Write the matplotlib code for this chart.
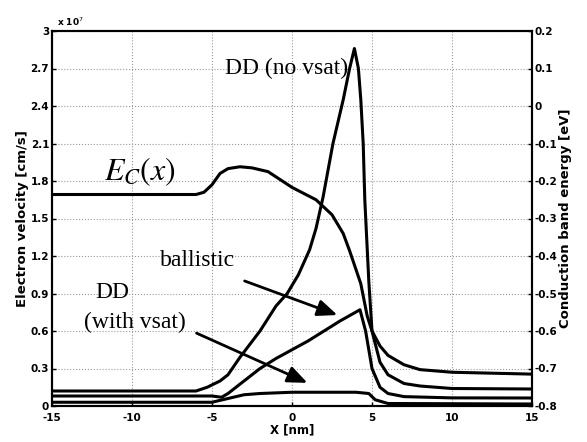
import matplotlib
matplotlib.use("Agg")
import matplotlib.pyplot as plt
import numpy as np

# ---- data ----
x_dd_novsat = [-15, -6, -5.3, -4.5, -4, -3.25, -2, -1, -0.3, 0.4, 1.1, 1.5, 1.94, 2.56, 3.2, 3.6, 3.9, 4.15, 4.3, 4.45, 4.55, 4.8, 5.0, 5.5, 6, 7, 8, 10, 15]
v_dd_novsat = [0.12, 0.12, 0.15, 0.2, 0.25, 0.39, 0.6, 0.8, 0.9, 1.05, 1.25, 1.42, 1.67, 2.1, 2.45, 2.7, 2.86, 2.7, 2.45, 2.1, 1.65, 1.0, 0.6, 0.35, 0.25, 0.18, 0.16, 0.14, 0.136]

x_ballistic = [-15, -5, -4.4, -4, -3, -2, -1, 0, 1, 2, 3, 4.25, 4.6, 5.0, 5.5, 6, 7, 10, 15]
v_ballistic = [0.08, 0.08, 0.07, 0.1, 0.2, 0.3, 0.38, 0.45, 0.52, 0.6, 0.68, 0.77, 0.6, 0.3, 0.15, 0.1, 0.075, 0.065, 0.064]

x_dd_vsat = [-15, -5, -4, -3, -2, 0, 4, 4.8, 5.2, 6, 15]
v_dd_vsat = [0.03, 0.03, 0.06, 0.09, 0.1, 0.11, 0.11, 0.1, 0.05, 0.02, 0.016]

x_ec = [-15, -6, -5.5, -5, -4.5, -4, -3.25, -2.5, -1.5, 0, 1.5, 2.5, 3.2, 3.6, 4.3, 4.7, 5.0, 5.5, 6, 7, 8, 10, 15]
e_ec = [-0.236, -0.236, -0.23, -0.21, -0.18, -0.167, -0.162, -0.165, -0.175, -0.217, -0.25, -0.29, -0.34, -0.386, -0.474, -0.56, -0.6, -0.64, -0.665, -0.69, -0.703, -0.71, -0.715]

xticks = [-15, -10, -5, 0, 5, 10, 15]
yticks_left = [0, 0.3, 0.6, 0.9, 1.2, 1.5, 1.8, 2.1, 2.4, 2.7, 3]
yticks_right = [-0.8, -0.7, -0.6, -0.5, -0.4, -0.3, -0.2, -0.1, 0, 0.1, 0.2]

fig = plt.figure(figsize=(5.87, 4.42), dpi=100)
ax = fig.add_axes([52/587, 1-406/442, 480/587, 375/442])
ax2 = ax.twinx()

lw = 2.2
ax.plot(x_dd_novsat, v_dd_novsat, color="black", lw=lw)
ax.plot(x_ballistic, v_ballistic, color="black", lw=lw)
ax.plot(x_dd_vsat, v_dd_vsat, color="black", lw=lw)
ax2.plot(x_ec, e_ec, color="black", lw=lw)

ax.set_xlim(-15, 15)
ax.set_ylim(0, 3)
ax2.set_ylim(-0.8, 0.2)
ax.set_xticks(xticks)
ax.set_yticks(yticks_left)
ax2.set_yticks(yticks_right)

tickfont = dict(fontsize=7.5, fontweight="bold")
ax.set_xticklabels([str(t) for t in xticks], **tickfont)
ax.set_yticklabels(["0", "0.3", "0.6", "0.9", "1.2", "1.5", "1.8", "2.1", "2.4", "2.7", "3"], **tickfont)
ax2.set_yticklabels(["-0.8", "-0.7", "-0.6", "-0.5", "-0.4", "-0.3", "-0.2", "-0.1", "0", "0.1", "0.2"], **tickfont)

for a in (ax, ax2):
    a.tick_params(direction="in", length=3, width=1, pad=2)
    for s in a.spines.values():
        s.set_linewidth(1.5)
ax.tick_params(axis="x", pad=5)

ax.grid(True, linestyle=":", color="#999999", linewidth=0.8)

ax.set_xlabel("X [nm]", fontsize=8.5, fontweight="bold", labelpad=0)
ax.set_ylabel("Electron velocity [cm/s]", fontsize=9.5, fontweight="bold", labelpad=1)
ax2.set_ylabel("Conduction band energy [eV]", fontsize=9.5, fontweight="bold", labelpad=1)
ax.text(0.01, 1.008, r"x 10$^7$", transform=ax.transAxes, fontsize=6.5, fontweight="bold", ha="left", va="bottom")

serif = "Liberation Serif"
fs = 17
fig.text(225/587, 1-68/442, "DD (no vsat)", family=serif, fontsize=fs, ha="left", va="center")
fig.text(104/587, 1-172/442, r"$E_C(x)$", fontsize=23, ha="left", va="center",
         math_fontfamily="stix")
fig.text(160/587, 1-261/442, "ballistic", family=serif, fontsize=fs, ha="left", va="center")
fig.text(95/587, 1-292/442, "DD", family=serif, fontsize=fs, ha="left", va="center")
fig.text(84/587, 1-322/442, "(with vsat)", family=serif, fontsize=fs, ha="left", va="center")

ax.annotate("", xy=(340/587, 1-316/442), xycoords="figure fraction",
            xytext=(242/587, 1-280/442), textcoords="figure fraction",
            arrowprops=dict(arrowstyle="-|>,head_length=1.2,head_width=0.5", color="black", lw=2))
ax.annotate("", xy=(310/587, 1-384/442), xycoords="figure fraction",
            xytext=(194/587, 1-332/442), textcoords="figure fraction",
            arrowprops=dict(arrowstyle="-|>,head_length=1.2,head_width=0.5", color="black", lw=2))

fig.savefig("out.png", dpi=100)
